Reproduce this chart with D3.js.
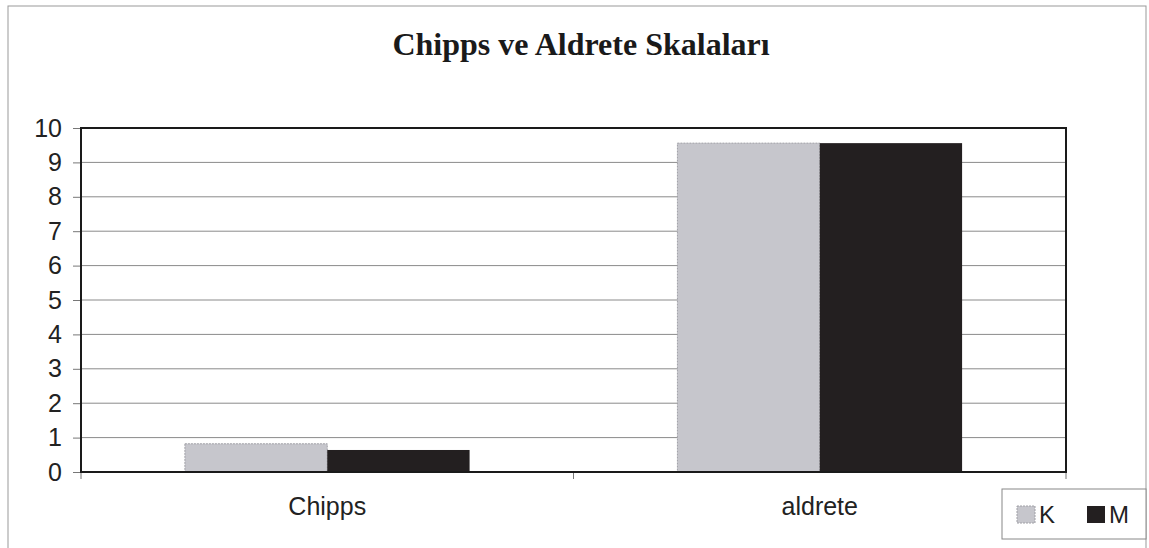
<!DOCTYPE html>
<html>
<head>
<meta charset="utf-8">
<script src="https://cdn.jsdelivr.net/npm/d3@7"></script>
<style>
  body { margin: 0; background: #fff; }
  svg { display: block; }
</style>
</head>
<body>
<div id="chart"></div>
<script>
// data
const categories = ["Chipps", "aldrete"];
const seriesNames = ["K", "M"];
const valuesK = [0.82, 9.56];
const valuesM = [0.64, 9.56];
const yTicks = [0, 1, 2, 3, 4, 5, 6, 7, 8, 9, 10];
const colors = ["#c6c6cc", "#231f20"];

const W = 1149, H = 548;
const margin = {top: 128, right: 83, bottom: 76, left: 81};
const width = W - margin.left - margin.right,
      height = H - margin.top - margin.bottom;

const svg = d3.select("#chart").append("svg")
  .attr("width", W).attr("height", H);

// outer chart frame
svg.append("rect")
  .attr("x", 8).attr("y", 6).attr("width", 1138).attr("height", 560)
  .attr("fill", "none").attr("stroke", "#999").attr("stroke-width", 1);

// title
svg.append("text")
  .attr("x", 581).attr("y", 55)
  .attr("text-anchor", "middle")
  .attr("font-family", "'Liberation Serif', 'DejaVu Serif', serif")
  .attr("font-weight", "bold").attr("font-size", "32px")
  .attr("fill", "#1a1a1a")
  .text("Chipps ve Aldrete Skalaları");

const g = svg.append("g")
  .attr("transform", "translate(" + margin.left + "," + margin.top + ")");

const x = d3.scaleBand().domain(categories).range([0, width]);
const y = d3.scaleLinear().domain([0, 10]).range([height, 0]);

// gridlines
g.selectAll(".grid").data(yTicks.slice(1, -1)).enter().append("line")
  .attr("x1", 0).attr("x2", width)
  .attr("y1", d => y(d)).attr("y2", d => y(d))
  .attr("stroke", "#8a8a8a").attr("stroke-width", 1);

// y axis
const yAxis = g.append("g")
  .call(d3.axisLeft(y).tickValues(yTicks).tickSize(8).tickPadding(11).tickFormat(d3.format("d")));
yAxis.select(".domain").remove();
yAxis.selectAll("line").attr("stroke", "#777");
yAxis.selectAll("text")
  .attr("font-family", "'Liberation Sans', Arial, sans-serif")
  .attr("font-size", "25px").attr("fill", "#222");

// bars
const sub = d3.scaleBand().domain(seriesNames)
  .range([0, x.bandwidth()]).paddingOuter(0.73);
const rows = categories.map((c, i) => ({cat: c, vals: [valuesK[i], valuesM[i]]}));

g.selectAll(".grp").data(rows).enter().append("g")
  .attr("transform", d => "translate(" + x(d.cat) + ",0)")
  .selectAll("rect").data(d => d.vals.map((v, j) => ({name: seriesNames[j], v: v, j: j})))
  .enter().append("rect")
  .attr("x", d => sub(d.name))
  .attr("y", d => y(d.v))
  .attr("width", sub.bandwidth())
  .attr("height", d => height - y(d.v))
  .attr("fill", d => colors[d.j])
  .attr("stroke", d => d.j === 0 ? "#a0a0a6" : "none")
  .attr("stroke-dasharray", "2,1");

// x axis
const xAxis = g.append("g")
  .attr("transform", "translate(0," + height + ")")
  .call(d3.axisBottom(x).tickSize(0).tickPadding(25));
xAxis.select(".domain").remove();
xAxis.selectAll("text")
  .attr("font-family", "'Liberation Sans', Arial, sans-serif")
  .attr("font-size", "25px").attr("fill", "#222");

// category separator ticks
g.selectAll(".sep").data([0, width / 2, width]).enter().append("line")
  .attr("x1", d => d).attr("x2", d => d)
  .attr("y1", height).attr("y2", height + 7)
  .attr("stroke", "#777");

// plot border
g.append("rect")
  .attr("width", width).attr("height", height)
  .attr("fill", "none").attr("stroke", "#1a1a1a").attr("stroke-width", 2);

// legend
const leg = svg.append("g").attr("transform", "translate(1002,489)");
leg.append("rect").attr("width", 144).attr("height", 50)
  .attr("fill", "#fff").attr("stroke", "#888");
seriesNames.forEach((n, i) => {
  const lx = 15 + i * 70;
  leg.append("rect").attr("x", lx).attr("y", 17).attr("width", 18).attr("height", 17)
    .attr("fill", colors[i])
    .attr("stroke", i === 0 ? "#a0a0a6" : "none").attr("stroke-dasharray", "2,1");
  leg.append("text").attr("x", lx + 22).attr("y", 34)
    .attr("font-family", "'Liberation Sans', Arial, sans-serif")
    .attr("font-size", "24px").attr("fill", "#222")
    .text(n);
});
</script>
</body>
</html>
